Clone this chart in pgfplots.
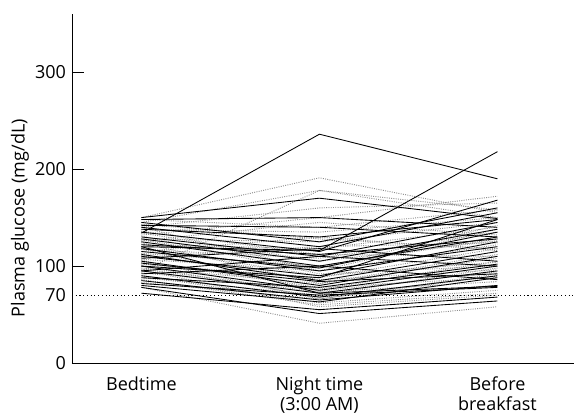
\documentclass[border=0pt]{standalone}
\usepackage{pgfplots}
\pgfplotsset{compat=1.18}
\usepackage{fontspec}
\setmainfont{Open Sans}
\begin{document}
\begin{tikzpicture}
\begin{axis}[
  at={(0,0)}, anchor=south west,
  scale only axis, width=376.5pt, height=261.75pt,
  xmin=-0.39, xmax=2.43, ymin=0, ymax=360,
  axis x line*=bottom, axis y line*=left,
  axis line style={line width=0.7pt, -},
  xtick={0,1,2},
  xticklabels={Bedtime, {Night time\\(3:00 AM)}, {Before\\breakfast}},
  xticklabel style={align=center, font=\fontsize{13.5}{14.8}\selectfont, yshift=-7pt},
  x tick style={draw=none},
  ytick={0,100,200,300},
  extra y ticks={70}, extra y tick style={major tick length=0pt},
  tick align=inside, major tick length=9pt,
  y tick style={line width=0.7pt, black},
  yticklabel style={font=\fontsize{13.5}{15}\selectfont, xshift=-1pt},
  /pgf/number format/assume math mode=true,
  ylabel={Plasma glucose (mg/dL)},
  ylabel style={at={(axis description cs:-0.1036,0.415)}, anchor=center, font=\fontsize{13.5}{15}\selectfont},
  gry/.style={black!45, densely dotted, line width=0.7pt},
  blk/.style={black, line width=0.65pt},
]
% gray dotted series
\addplot[gry] coordinates {(0,150)(1,191)(2,155)};
\addplot[gry] coordinates {(0,95)(1,178)(2,158)};
\addplot[gry] coordinates {(0,145)(1,178)(2,150)};
\addplot[gry] coordinates {(0,140)(1,160)(2,165)};
\addplot[gry] coordinates {(0,132)(1,150)(2,172)};
\addplot[gry] coordinates {(0,148)(1,140)(2,158)};
\addplot[gry] coordinates {(0,138)(1,135)(2,150)};
\addplot[gry] coordinates {(0,128)(1,125)(2,145)};
\addplot[gry] coordinates {(0,122)(1,118)(2,140)};
\addplot[gry] coordinates {(0,117)(1,108)(2,135)};
\addplot[gry] coordinates {(0,113)(1,100)(2,128)};
\addplot[gry] coordinates {(0,107)(1,95)(2,122)};
\addplot[gry] coordinates {(0,102)(1,88)(2,118)};
\addplot[gry] coordinates {(0,98)(1,82)(2,112)};
\addplot[gry] coordinates {(0,93)(1,76)(2,105)};
\addplot[gry] coordinates {(0,88)(1,70)(2,98)};
\addplot[gry] coordinates {(0,83)(1,66)(2,92)};
\addplot[gry] coordinates {(0,78)(1,41)(2,58)};
\addplot[gry] coordinates {(0,86)(1,60)(2,72)};
\addplot[gry] coordinates {(0,143)(1,128)(2,118)};
\addplot[gry] coordinates {(0,136)(1,112)(2,110)};
\addplot[gry] coordinates {(0,127)(1,98)(2,142)};
\addplot[gry] coordinates {(0,119)(1,90)(2,104)};
\addplot[gry] coordinates {(0,111)(1,86)(2,96)};
\addplot[gry] coordinates {(0,104)(1,78)(2,88)};
\addplot[gry] coordinates {(0,97)(1,73)(2,84)};
\addplot[gry] coordinates {(0,126)(1,145)(2,132)};
\addplot[gry] coordinates {(0,134)(1,105)(2,126)};
\addplot[gry] coordinates {(0,115)(1,130)(2,116)};
\addplot[gry] coordinates {(0,109)(1,120)(2,124)};
\addplot[gry] coordinates {(0,100)(1,68)(2,80)};
\addplot[gry] coordinates {(0,90)(1,62)(2,75)};
\addplot[gry] coordinates {(0,140)(1,95)(2,138)};
\addplot[gry] coordinates {(0,124)(1,82)(2,108)};
\addplot[gry] coordinates {(0,131)(1,92)(2,100)};
\addplot[gry] coordinates {(0,118)(1,74)(2,94)};
\addplot[gry] coordinates {(0,106)(1,66)(2,90)};
\addplot[gry] coordinates {(0,96)(1,58)(2,70)};
% black series
\addplot[blk] coordinates {(0,134)(1,236)(2,190)};
\addplot[blk] coordinates {(0,150)(1,170)(2,149)};
\addplot[blk] coordinates {(0,120)(1,116)(2,218)};
\addplot[blk] coordinates {(0,72)(1,55)(2,68)};
\addplot[blk] coordinates {(0,78)(1,51)(2,64)};
\addplot[blk] coordinates {(0,148)(1,150)(2,140)};
\addplot[blk] coordinates {(0,140)(1,120)(2,155)};
\addplot[blk] coordinates {(0,130)(1,110)(2,145)};
\addplot[blk] coordinates {(0,125)(1,100)(2,130)};
\addplot[blk] coordinates {(0,118)(1,95)(2,120)};
\addplot[blk] coordinates {(0,112)(1,85)(2,115)};
\addplot[blk] coordinates {(0,105)(1,80)(2,110)};
\addplot[blk] coordinates {(0,100)(1,75)(2,100)};
\addplot[blk] coordinates {(0,95)(1,72)(2,95)};
\addplot[blk] coordinates {(0,90)(1,68)(2,90)};
\addplot[blk] coordinates {(0,85)(1,65)(2,80)};
\addplot[blk] coordinates {(0,82)(1,70)(2,78)};
\addplot[blk] coordinates {(0,138)(1,130)(2,148)};
\addplot[blk] coordinates {(0,128)(1,105)(2,138)};
\addplot[blk] coordinates {(0,122)(1,112)(2,128)};
\addplot[blk] coordinates {(0,115)(1,98)(2,135)};
\addplot[blk] coordinates {(0,110)(1,90)(2,125)};
\addplot[blk] coordinates {(0,108)(1,118)(2,105)};
\addplot[blk] coordinates {(0,100)(1,88)(2,148)};
\addplot[blk] coordinates {(0,95)(1,110)(2,100)};
\addplot[blk] coordinates {(0,88)(1,78)(2,102)};
\addplot[blk] coordinates {(0,145)(1,125)(2,160)};
\addplot[blk] coordinates {(0,135)(1,115)(2,168)};
\addplot[blk] coordinates {(0,142)(1,140)(2,130)};
\addplot[blk] coordinates {(0,92)(1,100)(2,86)};
\addplot[blk] coordinates {(0,80)(1,63)(2,88)};
\addplot[blk] coordinates {(0,120)(1,72)(2,79)};
\addplot[blk] coordinates {(0,103)(1,84)(2,92)};
% hypoglycaemia threshold
\addplot[black, dotted, line width=0.8pt] coordinates {(-0.39,70)(2.43,70)};
\end{axis}
\pgfresetboundingbox
\path[use as bounding box] (-54pt,-38.25pt) rectangle (376.5pt,272.25pt);
\end{tikzpicture}
\end{document}
